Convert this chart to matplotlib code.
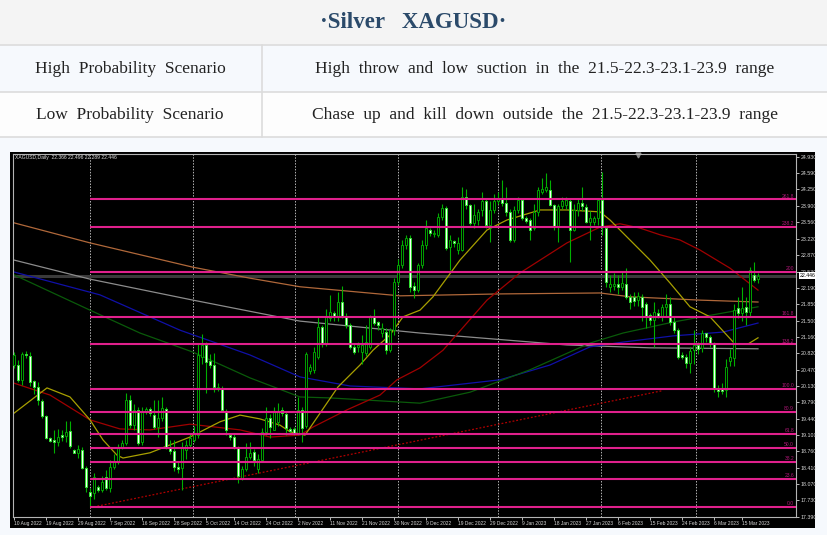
import matplotlib
matplotlib.use("Agg")
import matplotlib.pyplot as plt
from matplotlib.patches import Rectangle

# ---- data (daily XAGUSD bars, index = bar number) ----
opens = [20.57, 20.57, 20.26, 20.80, 20.76, 20.24, 20.11, 19.82, 19.50, 19.04,
         19.00, 18.96, 19.10, 19.08, 19.19, 18.79, 18.73, 18.79, 18.42, 17.91,
         17.89, 18.01, 17.95, 18.22, 17.99, 18.43, 18.54, 18.83, 18.94, 19.84,
         19.32, 19.63, 18.96, 19.59, 19.65, 19.53, 19.27, 19.46, 19.65, 18.85,
         18.77, 18.43, 18.42, 18.79, 18.90, 19.00, 19.10, 20.74, 20.99, 20.65,
         20.57, 20.09, 20.09, 19.61, 19.10, 19.06, 18.85, 18.20, 18.39, 18.64,
         18.75, 18.39, 18.58, 19.17, 19.46, 19.21, 19.38, 19.63, 19.55, 19.23,
         19.23, 19.15, 19.63, 19.30, 20.44, 20.47, 20.74, 21.37, 21.01, 21.55,
         21.66, 21.58, 21.89, 21.58, 21.41, 20.95, 20.95, 20.84, 20.82, 20.95,
         21.58, 21.47, 21.24, 21.26, 20.88, 21.30, 22.31, 22.67, 23.08, 23.23,
         22.23, 22.14, 22.67, 23.08, 23.40, 23.32, 23.30, 23.67, 23.86, 23.04,
         23.17, 22.98, 22.98, 24.09, 23.92, 23.55, 23.61, 23.82, 24.00, 23.51,
         23.82, 24.00, 24.07, 23.97, 23.78, 23.19, 23.82, 24.03, 23.65, 23.61,
         23.44, 23.78, 24.20, 24.24, 24.24, 23.92, 23.46, 23.90, 23.92, 24.00,
         23.40, 23.82, 23.97, 23.88, 23.57, 23.57, 23.65, 24.03, 23.44, 22.21,
         22.23, 22.27, 22.21, 22.27, 22.00, 22.00, 21.93, 22.00, 21.85, 21.62,
         21.51, 21.66, 21.58, 21.79, 21.85, 21.47, 21.30, 20.78, 20.74, 20.61,
         20.88, 20.99, 20.93, 21.24, 21.16, 21.03, 20.09, 20.07, 20.05, 20.66,
         20.72, 21.76, 21.66, 21.79, 21.68, 22.46, 22.366]
highs = [20.85, 20.68, 20.85, 20.86, 20.84, 20.26, 20.22, 19.86, 19.52, 19.06,
         19.21, 19.23, 19.21, 19.40, 19.40, 18.80, 18.90, 18.85, 18.45, 18.00,
         18.30, 18.05, 18.25, 18.37, 18.58, 18.70, 18.92, 19.00, 19.98, 19.95,
         19.75, 19.70, 19.70, 19.70, 19.70, 19.84, 19.84, 19.90, 19.70, 19.00,
         19.00, 18.55, 18.95, 19.00, 19.15, 19.30, 21.03, 21.22, 21.05, 20.80,
         20.82, 20.20, 20.12, 19.65, 19.15, 19.12, 18.87, 18.45, 18.94, 18.95,
         18.80, 18.70, 19.25, 19.70, 19.55, 19.70, 19.77, 19.70, 19.60, 19.27,
         19.28, 19.90, 19.70, 20.85, 20.60, 20.95, 21.58, 21.40, 21.75, 22.04,
         21.70, 22.10, 22.23, 21.65, 21.45, 21.00, 21.05, 21.20, 21.40, 21.62,
         21.75, 21.50, 21.45, 21.35, 21.35, 22.40, 22.80, 23.20, 23.30, 23.30,
         22.30, 22.70, 23.20, 23.60, 23.45, 23.40, 23.75, 23.95, 23.90, 23.30,
         23.20, 23.25, 24.30, 24.25, 23.95, 23.95, 23.85, 24.20, 24.05, 24.00,
         24.15, 24.20, 24.45, 24.30, 23.85, 23.90, 24.10, 24.05, 23.70, 23.65,
         23.95, 24.30, 24.50, 24.60, 24.45, 23.95, 23.95, 24.10, 24.10, 24.05,
         23.95, 24.05, 24.30, 23.95, 23.80, 23.70, 24.07, 24.62, 23.45, 22.45,
         22.50, 22.45, 22.55, 22.60, 22.05, 22.10, 22.10, 22.05, 21.90, 21.65,
         21.90, 21.75, 21.85, 22.05, 22.00, 21.60, 21.35, 20.85, 20.80, 20.95,
         21.30, 21.05, 21.30, 21.25, 21.20, 21.05, 20.15, 20.20, 20.70, 20.90,
         21.85, 22.00, 22.20, 22.00, 22.62, 22.72, 22.496]
lows = [20.50, 20.22, 20.15, 20.72, 20.12, 19.97, 19.74, 19.45, 19.02, 18.96,
        18.73, 18.88, 18.98, 18.96, 18.84, 18.72, 18.62, 18.38, 17.90, 17.60,
        17.77, 17.90, 17.90, 17.95, 17.90, 18.40, 18.50, 18.80, 18.90, 19.25,
        19.20, 18.90, 18.90, 19.55, 19.50, 19.23, 19.06, 19.40, 18.80, 18.70,
        18.35, 18.30, 17.95, 18.60, 18.85, 18.95, 19.05, 20.60, 19.98, 20.50,
        20.00, 20.02, 19.60, 19.10, 19.00, 18.80, 18.10, 18.15, 18.35, 18.60,
        18.45, 18.30, 18.55, 19.10, 19.05, 19.20, 19.30, 19.50, 19.10, 19.15,
        19.10, 19.10, 18.95, 19.25, 20.38, 20.40, 20.70, 20.95, 20.97, 21.50,
        21.50, 21.50, 21.55, 21.35, 20.90, 20.80, 20.85, 20.60, 20.75, 20.90,
        21.40, 21.30, 21.15, 20.80, 20.85, 21.20, 22.25, 22.60, 23.00, 22.10,
        21.98, 22.10, 22.60, 23.00, 23.28, 23.25, 23.25, 23.60, 22.98, 22.56,
        23.05, 22.90, 22.95, 23.85, 23.50, 23.45, 23.50, 23.70, 23.45, 23.15,
        23.75, 23.95, 23.90, 23.70, 23.15, 23.15, 23.75, 23.60, 23.55, 23.20,
        23.40, 23.70, 24.15, 24.20, 23.90, 23.40, 23.15, 23.85, 23.85, 22.73,
        23.38, 23.70, 23.80, 23.55, 23.20, 23.50, 23.50, 23.30, 22.20, 22.10,
        22.15, 22.05, 22.15, 21.95, 21.75, 21.80, 21.80, 21.50, 21.35, 21.40,
        20.95, 21.55, 21.50, 21.60, 21.40, 21.25, 20.70, 20.70, 20.50, 20.40,
        20.60, 20.80, 20.85, 21.05, 20.95, 20.00, 19.90, 19.96, 19.90, 20.55,
        20.55, 21.55, 21.50, 21.40, 21.60, 22.30, 22.289]
closes = [20.78, 20.26, 20.80, 20.78, 20.22, 20.11, 19.84, 19.50, 19.04, 18.98,
          18.96, 19.06, 19.06, 19.17, 18.87, 18.73, 18.81, 18.42, 18.02, 17.82,
          18.22, 17.95, 18.12, 17.99, 18.43, 18.54, 18.83, 18.94, 19.84, 19.32,
          19.63, 18.94, 19.59, 19.65, 19.57, 19.27, 19.46, 19.67, 18.85, 18.77,
          18.43, 18.39, 18.83, 18.90, 19.04, 19.15, 20.78, 20.99, 20.63, 20.57,
          20.11, 20.11, 19.63, 19.21, 19.06, 18.85, 18.25, 18.39, 18.64, 18.73,
          18.58, 18.60, 19.17, 19.46, 19.27, 19.59, 19.59, 19.57, 19.25, 19.19,
          19.15, 19.63, 19.25, 20.80, 20.53, 20.84, 21.37, 21.01, 21.58, 21.68,
          21.58, 21.89, 21.58, 21.41, 20.95, 20.84, 20.99, 20.99, 21.05, 21.58,
          21.45, 21.41, 21.35, 20.88, 21.30, 22.31, 22.67, 23.08, 23.23, 22.21,
          22.14, 22.67, 23.08, 23.44, 23.34, 23.34, 23.67, 23.86, 23.02, 23.19,
          23.13, 23.13, 24.09, 23.92, 23.55, 23.72, 23.78, 24.00, 23.51, 23.82,
          24.00, 24.07, 23.97, 23.78, 23.19, 23.82, 24.03, 23.65, 23.59, 23.40,
          23.78, 24.24, 24.26, 24.30, 23.92, 23.46, 23.90, 24.00, 24.03, 23.40,
          23.82, 23.97, 23.90, 23.57, 23.65, 23.65, 24.03, 23.46, 22.31, 22.27,
          22.27, 22.21, 22.29, 22.00, 21.89, 21.91, 22.02, 21.79, 21.58, 21.51,
          21.68, 21.60, 21.79, 21.85, 21.47, 21.30, 20.74, 20.74, 20.61, 20.86,
          20.99, 20.90, 21.24, 21.16, 21.03, 20.09, 20.03, 20.03, 20.53, 20.74,
          21.72, 21.66, 21.76, 21.68, 22.56, 22.35, 22.446]

# moving averages, sampled (bar, price)
ma_yellow_x = [0, 8.25, 14, 19, 22.25, 25.75, 27.25, 34, 44, 51.5, 56.5, 61.5, 66.5, 69,
               72.75, 76.5, 81, 86.5, 89.75, 94, 97.25, 101.5, 104.75, 111.5, 118.25,
               123.25, 131.5, 138.25, 146.5, 149, 154, 159, 164, 169, 174, 180.25, 183.5, 186]
ma_yellow_y = [19.56, 20.09, 19.90, 19.42, 19.00, 18.68, 18.62, 18.73, 19.06, 19.38, 19.52,
               19.44, 19.31, 19.17, 19.10, 19.56, 20.11, 20.57, 20.88, 21.20, 21.58, 21.72,
               22.00, 22.77, 23.40, 23.61, 23.82, 23.82, 23.78, 23.61, 23.19, 22.77, 22.29,
               21.79, 21.58, 21.01, 21.01, 21.14]
ma_red_x = [0, 9, 19, 26.5, 34, 44, 56.5, 64, 71.5, 74.75, 83.25, 91.5, 95.75, 101.5,
            107.25, 118.25, 126.5, 138.25, 146.5, 151.5, 156.5, 161.5, 166.5, 171.5, 179, 186]
ma_red_y = [20.19, 19.94, 19.42, 19.23, 19.21, 19.33, 19.21, 19.06, 19.10, 19.27, 19.63,
            19.94, 20.26, 20.51, 20.88, 21.93, 22.50, 23.13, 23.46, 23.53, 23.44, 23.30,
            23.19, 22.98, 22.60, 22.14]
ma_green_x = [0, 19, 31.5, 44.75, 59, 71.5, 79, 101.5, 114, 129, 144, 152.25, 164.75, 177.25, 186]
ma_green_y = [22.46, 21.72, 21.24, 20.84, 20.30, 19.90, 19.88, 19.77, 20.00, 20.47, 21.03,
              21.24, 21.47, 21.66, 21.79]
ma_blue_x = [0, 21.5, 41.5, 59, 71.5, 84, 101.5, 121.5, 134, 144, 152.25, 164.75, 177.25, 186]
ma_blue_y = [22.52, 22.04, 21.30, 20.78, 20.32, 20.13, 20.07, 20.26, 20.57, 20.95, 21.05,
             21.18, 21.26, 21.45]
ma_gray_x = [0, 19, 44.75, 71.5, 101.5, 138.25, 159, 186]
ma_gray_y = [22.77, 22.37, 21.93, 21.49, 21.24, 20.99, 20.93, 20.91]
ma_brown_x = [0, 19, 44.75, 59, 71.5, 96.5, 121.5, 146.5, 154, 171.5, 186]
ma_brown_y = [23.55, 23.13, 22.62, 22.39, 22.21, 22.02, 22.06, 22.08, 22.00, 21.93, 21.89]

fib_levels = [17.60, 18.18, 18.54, 18.83, 19.12, 19.59, 20.06, 21.00, 21.58, 22.52, 23.46, 24.04]
fib_labels = ['0.0', '23.6', '38.2', '50.0', '61.8', '80.9', '100.0', '138.2', '161.8', '200', '238.2', '261.8']
fib_start = 19

trend_x = [19, 162]
trend_y = [17.58, 20.03]

month_breaks = [19, 44.75, 70.25, 96, 121, 146.75, 170.5]

price_ticks = [24.930, 24.590, 24.250, 23.900, 23.560, 23.220, 22.870, 22.530, 22.190, 21.850,
               21.500, 21.160, 20.820, 20.470, 20.130, 19.790, 19.440, 19.100, 18.760, 18.410,
               18.070, 17.730, 17.390]
date_ticks = [0, 8, 16, 24, 32, 40, 48, 55, 63, 71, 79, 87, 95, 103, 111, 119, 127, 135, 143,
              151, 159, 167, 175, 182]
date_labels = ['10 Aug 2022', '19 Aug 2022', '29 Aug 2022', '7 Sep 2022', '16 Sep 2022',
               '28 Sep 2022', '5 Oct 2022', '14 Oct 2022', '24 Oct 2022', '2 Nov 2022',
               '11 Nov 2022', '21 Nov 2022', '30 Nov 2022', '9 Dec 2022', '19 Dec 2022',
               '29 Dec 2022', '9 Jan 2023', '18 Jan 2023', '27 Jan 2023', '6 Feb 2023',
               '15 Feb 2023', '24 Feb 2023', '6 Mar 2023', '15 Mar 2023']
last_price = 22.446

title = '·Silver   XAGUSD·'
rows = [('High  Probability  Scenario',
         'High  throw  and  low  suction  in  the  21.5-22.3-23.1-23.9  range'),
        ('Low  Probability  Scenario',
         'Chase  up  and  kill  down  outside  the  21.5-22.3-23.1-23.9  range')]

W, H = 827, 535
fig = plt.figure(figsize=(W / 100, H / 100), dpi=100)
fig.patch.set_facecolor('#f6f9fd')

# page background (pixel coordinates)
bg = fig.add_axes([0, 0, 1, 1])
bg.set_xlim(0, W)
bg.set_ylim(H, 0)
bg.axis('off')
bg.add_patch(Rectangle((0, 0), W, 45, fc='#f4f4f4', ec='none'))
bg.add_patch(Rectangle((0, 45), W, 47, fc='#f6f9fd', ec='none'))
bg.add_patch(Rectangle((0, 92), W, 45, fc='#fdfdfd', ec='none'))
for yy in (45, 92, 137):
    bg.plot([0, W], [yy, yy], color='#dcdcdc', lw=1.2)
bg.plot([262, 262], [45, 137], color='#dcdcdc', lw=1.2)
bg.text(W / 2, 23, title, ha='center', va='center', fontsize=16.5, fontweight='bold',
        family='Liberation Serif', color='#2b4a6a')
for k, (left, right) in enumerate(rows):
    yc = 69 + 46 * k
    bg.text(130, yc, left, ha='center', va='center', fontsize=12.5,
            family='Liberation Serif', color='#222222')
    bg.text(545, yc, right, ha='center', va='center', fontsize=12.5,
            family='Liberation Serif', color='#222222')
bg.add_patch(Rectangle((10, 152), 805, 376, fc='black', ec='none'))

# chart
ax = fig.add_axes([13 / W, (H - 517) / H, (796 - 13) / W, (517 - 154) / H])
ax.set_facecolor('black')
ax.set_xlim(-0.25, 195.5)
ax.set_ylim(17.384, 24.993)

ax.vlines(month_breaks, 17.384, 24.993, colors='#b4b4b4', linestyles=(0, (1.5, 1.5)), lw=0.7, zorder=1)
ax.axhline(last_price, color='#3a3a3a', lw=2.2, zorder=1)

ax.plot(ma_brown_x, ma_brown_y, color='#b0683a', lw=0.9, zorder=2)
ax.plot(ma_gray_x, ma_gray_y, color='#8c8c8c', lw=0.9, zorder=2)
ax.plot(ma_blue_x, ma_blue_y, color='#1010a8', lw=0.9, zorder=2)
ax.plot(ma_green_x, ma_green_y, color='#0a5a0a', lw=0.9, zorder=2)
ax.plot(ma_red_x, ma_red_y, color='#a00000', lw=0.9, zorder=2)
ax.plot(ma_yellow_x, ma_yellow_y, color='#a8a000', lw=0.9, zorder=2)
ax.plot(trend_x, trend_y, color='#b00000', lw=0.9, linestyle=(0, (1.5, 1.5)), zorder=2)

idx = list(range(len(closes)))
ax.vlines(idx, lows, highs, colors='#00b000', lw=0.8, zorder=4)
bottoms = [min(o, c) for o, c in zip(opens, closes)]
heights = [max(abs(c - o), 0.02) for o, c in zip(opens, closes)]
fills = ['black' if c >= o else '#f4fff4' for o, c in zip(opens, closes)]
edges = ['#00a000' if c >= o else '#30e030' for o, c in zip(opens, closes)]
ax.bar(idx, heights, bottom=bottoms, width=0.62, color=fills, edgecolor=edges, lw=0.7, zorder=5)

small = 'Liberation Sans'
ax.hlines(fib_levels, fib_start, 195.5, colors='#e0208c', lw=1.5, zorder=6)
for lv, lb in zip(fib_levels, fib_labels):
    ax.text(195.0, lv + 0.02, lb, ha='right', va='bottom', fontsize=3.6, family=small,
            color='#b01878', zorder=7)

ax.text(0.003, 0.997, 'XAGUSD,Daily  22.366 22.496 22.289 22.446', transform=ax.transAxes,
        ha='left', va='top', fontsize=3.6, family=small, color='#e0e0e0')
ax.plot([0.798], [0.996], marker='v', ms=3.5, color='#8a8a8a', transform=ax.transAxes, clip_on=False)

ax.yaxis.tick_right()
ax.set_yticks(price_ticks)
ax.set_yticklabels([f'{v:.3f}' for v in price_ticks], family=small, fontsize=3.8)
ax.set_xticks(date_ticks)
ax.set_xticklabels(date_labels, ha='left', family=small, fontsize=3.5)
ax.tick_params(axis='both', colors='#d8d8d8', length=2, width=0.6, pad=1.2)
for sp in ax.spines.values():
    sp.set_color('#b4b4b4')
    sp.set_linewidth(0.8)

ax.annotate(f'{last_price:.3f}', xy=(1.0, last_price), xycoords=('axes fraction', 'data'),
            xytext=(2.5, 0), textcoords='offset points', ha='left', va='center', fontsize=3.8,
            family=small, color='black', bbox=dict(boxstyle='square,pad=0.15', fc='white', ec='none'),
            annotation_clip=False)

fig.savefig('out.png', dpi=100, facecolor=fig.get_facecolor())
